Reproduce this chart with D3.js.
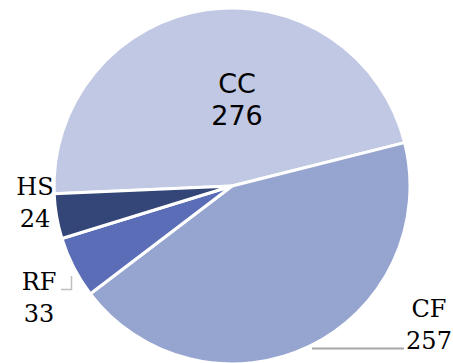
<!DOCTYPE html>
<html><head><meta charset="utf-8">
<script src="https://cdn.jsdelivr.net/npm/d3@7"></script>
<style>html,body{margin:0;padding:0;background:#fff;overflow:hidden}</style>
</head><body><svg id="c" width="453" height="363"></svg>
<script>
const categories = ["CC", "CF", "RF", "HS"];
const values = [276, 257, 33, 24];
const colors = ["#c1c8e3", "#95a5cf", "#5a6db6", "#344677"];

const svg = d3.select("#c");
const cx = 232, cy = 186, R = 178;
const g = svg.append("g").attr("transform", `translate(${cx},${cy})`);
const pie = d3.pie().sort(null).value(d => d.v)
  .startAngle(-92.5 * Math.PI / 180).endAngle((360 - 92.5) * Math.PI / 180);
const arcs = pie(categories.map((c, i) => ({c, v: values[i]})));
const arc = d3.arc().innerRadius(0).outerRadius(R);
g.selectAll("path").data(arcs).enter().append("path")
  .attr("d", arc).attr("fill", (d, i) => colors[i])
  .attr("stroke", "#fff").attr("stroke-width", 3).attr("stroke-linejoin", "round");

// leader lines
svg.append("path").attr("d", "M312,348.5H404").attr("stroke", "#a6a6a6").attr("stroke-width", 2).attr("fill", "none");
svg.append("path").attr("d", "M61,289.5H71.5V276").attr("stroke", "#bfbfbf").attr("stroke-width", 1.5).attr("fill", "none");

// labels
const labelPos = {CC: [237, 93, "sans"], CF: [429, 317, "serif"], RF: [39, 290, "serif"], HS: [35, 195, "serif"]};
categories.forEach((c, i) => {
  const [x, y, f] = labelPos[c];
  const t = svg.append("text").attr("text-anchor", "middle")
    .attr("font-family", f === "sans" ? "'DejaVu Sans', sans-serif" : "'DejaVu Serif', serif")
    .attr("font-size", f === "sans" ? 27 : 24).attr("fill", "#000");
  t.append("tspan").attr("x", x).attr("y", y).text(c);
  t.append("tspan").attr("x", x).attr("y", y + 32).text(values[i]);
});
</script></body></html>
